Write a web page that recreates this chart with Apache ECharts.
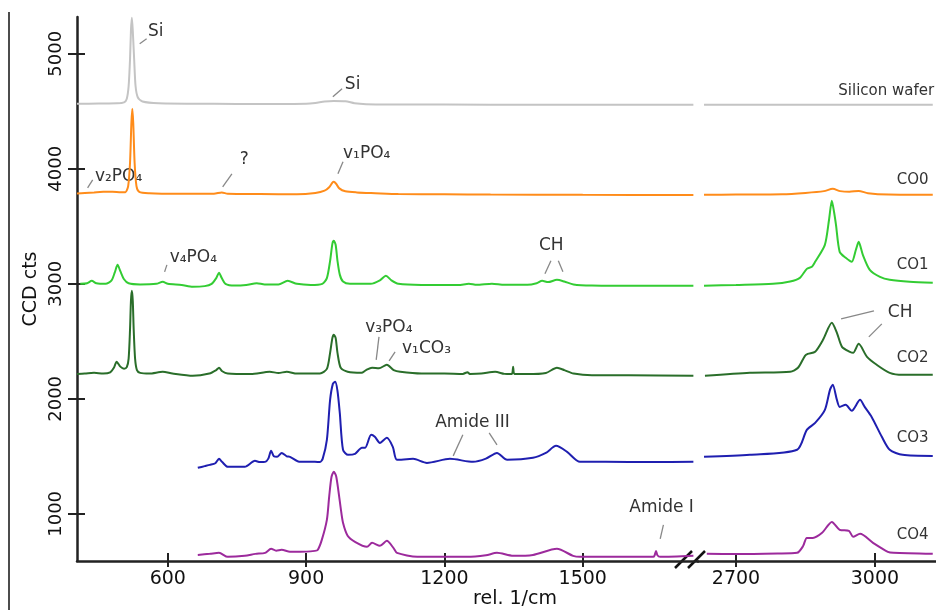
<!DOCTYPE html>
<html>
<head>
<meta charset="utf-8">
<script src="https://cdn.jsdelivr.net/npm/echarts@6/dist/echarts.min.js"></script>
<style>
    html, body {margin: 0; padding: 0; background: #fff;}
    #main {width: 936px; height: 610px;}
</style>
</head>
<body>
<div id="main"></div>
<script>
// tick values
const wnTicksLow = [600, 900, 1200, 1500];
const wnTicksHigh = [2700, 3000];
const ctsTicks = [1000, 2000, 3000, 4000, 5000];

// spectra, [rel. 1/cm, CCD cts], low range (left) and CH range (right)
const siLeft = [[403, 4565], [450, 4568], [490, 4570], [505, 4578], [511, 4610], [515, 4720], [518, 4950], [520, 5200], [522, 5313], [524, 5200], [527, 4950], [530, 4720], [535, 4620], [545, 4585], [580, 4570], [700, 4565], [800, 4563], [900, 4565], [920, 4572], [940, 4585], [960, 4590], [985, 4588], [1005, 4570], [1030, 4562], [1100, 4560], [1300, 4558], [1500, 4557], [1740, 4556]];
const siRight = [[2631, 4557], [2750, 4557], [2900, 4557], [3000, 4557], [3125, 4557]];

const co0Left = [[403, 3785], [420, 3790], [440, 3795], [460, 3800], [480, 3800], [498, 3797], [508, 3797], [514, 3850], [518, 4050], [521, 4400], [523, 4522], [525, 4400], [528, 4050], [532, 3850], [538, 3800], [560, 3788], [620, 3783], [700, 3783], [717, 3795], [730, 3783], [800, 3780], [880, 3778], [920, 3790], [940, 3810], [950, 3840], [957, 3880], [960, 3887], [965, 3870], [972, 3830], [985, 3805], [1010, 3795], [1050, 3788], [1100, 3780], [1200, 3778], [1300, 3776], [1500, 3774], [1740, 3772]];
const co0Right = [[2631, 3774], [2700, 3776], [2800, 3778], [2850, 3790], [2890, 3806], [2909, 3826], [2925, 3806], [2945, 3800], [2965, 3808], [2985, 3788], [3030, 3776], [3125, 3774]];

const co1Left = [[410, 3000], [425, 3005], [435, 3026], [445, 3005], [465, 3000], [478, 3030], [485, 3100], [491, 3165], [497, 3110], [505, 3040], [515, 3005], [540, 2995], [575, 3000], [589, 3017], [600, 3000], [630, 2990], [654, 2974], [680, 2980], [695, 3000], [705, 3050], [711, 3096], [717, 3050], [725, 3000], [745, 2985], [770, 2990], [793, 3005], [810, 2995], [840, 2995], [860, 3026], [880, 3000], [910, 2990], [935, 3000], [945, 3050], [952, 3200], [957, 3350], [960, 3374], [964, 3340], [968, 3200], [973, 3080], [980, 3020], [995, 3000], [1040, 3000], [1060, 3030], [1073, 3070], [1085, 3030], [1100, 3000], [1150, 2990], [1230, 2990], [1253, 3000], [1270, 2991], [1303, 3000], [1330, 2991], [1380, 2991], [1400, 3005], [1412, 3026], [1425, 3015], [1444, 3035], [1460, 3020], [1480, 2995], [1520, 2985], [1600, 2983], [1740, 2983]];
const co1Right = [[2631, 2983], [2700, 2990], [2780, 3000], [2817, 3020], [2838, 3052], [2853, 3130], [2864, 3148], [2871, 3191], [2892, 3339], [2901, 3557], [2907, 3722], [2912, 3620], [2916, 3513], [2924, 3278], [2937, 3226], [2950, 3191], [2959, 3296], [2965, 3365], [2974, 3252], [2989, 3122], [3011, 3061], [3032, 3035], [3075, 3017], [3125, 3009]];

const co2Left = [[403, 2217], [420, 2220], [440, 2226], [460, 2220], [475, 2230], [483, 2270], [489, 2322], [497, 2280], [505, 2262], [511, 2275], [515, 2350], [518, 2600], [520, 2850], [522, 2939], [524, 2850], [526, 2600], [529, 2350], [533, 2250], [540, 2226], [560, 2220], [589, 2235], [610, 2220], [654, 2200], [690, 2220], [705, 2250], [711, 2270], [718, 2240], [730, 2220], [780, 2215], [821, 2235], [840, 2225], [858, 2235], [880, 2220], [930, 2220], [945, 2260], [952, 2400], [957, 2530], [960, 2557], [964, 2530], [968, 2400], [975, 2270], [990, 2235], [1020, 2226], [1030, 2250], [1043, 2270], [1058, 2265], [1075, 2296], [1090, 2250], [1104, 2235], [1150, 2220], [1200, 2220], [1240, 2217], [1250, 2232], [1255, 2217], [1280, 2220], [1310, 2235], [1330, 2217], [1346, 2215], [1349, 2278], [1352, 2215], [1380, 2215], [1420, 2225], [1444, 2270], [1460, 2250], [1480, 2220], [1520, 2205], [1600, 2205], [1740, 2200]];
const co2Right = [[2633, 2200], [2730, 2226], [2817, 2235], [2834, 2270], [2849, 2374], [2855, 2391], [2871, 2409], [2888, 2513], [2907, 2661], [2918, 2574], [2929, 2452], [2946, 2409], [2953, 2400], [2965, 2478], [2983, 2365], [3004, 2296], [3032, 2226], [3060, 2209], [3125, 2209]];

const co3Left = [[665, 1400], [680, 1415], [691, 1426], [703, 1440], [711, 1478], [718, 1450], [730, 1409], [767, 1409], [789, 1461], [800, 1450], [811, 1452], [818, 1480], [824, 1548], [830, 1500], [837, 1496], [847, 1530], [858, 1500], [865, 1496], [887, 1452], [919, 1452], [930, 1450], [936, 1480], [945, 1643], [952, 1991], [958, 2130], [963, 2148], [968, 2070], [973, 1878], [980, 1557], [991, 1513], [1006, 1522], [1021, 1574], [1028, 1574], [1041, 1687], [1049, 1670], [1060, 1617], [1075, 1661], [1088, 1583], [1097, 1470], [1132, 1478], [1162, 1443], [1212, 1478], [1262, 1452], [1290, 1480], [1314, 1530], [1336, 1470], [1392, 1487], [1420, 1530], [1442, 1591], [1466, 1539], [1494, 1452], [1550, 1452], [1650, 1450], [1740, 1452]];
const co3Right = [[2631, 1496], [2730, 1513], [2832, 1557], [2853, 1730], [2871, 1791], [2892, 1904], [2903, 2078], [2909, 2122], [2918, 1991], [2924, 1930], [2937, 1948], [2950, 1896], [2968, 1991], [2978, 1930], [2993, 1843], [3015, 1670], [3032, 1557], [3060, 1513], [3125, 1504]];

const co4Left = [[665, 643], [691, 652], [711, 661], [730, 626], [767, 635], [790, 652], [811, 661], [824, 696], [835, 680], [847, 687], [865, 670], [887, 670], [919, 678], [925, 685], [934, 774], [945, 948], [950, 1150], [955, 1320], [960, 1365], [965, 1330], [970, 1200], [975, 1050], [980, 922], [990, 810], [1006, 757], [1032, 713], [1043, 748], [1060, 722], [1075, 765], [1090, 700], [1097, 661], [1141, 626], [1249, 626], [1290, 640], [1314, 661], [1349, 635], [1392, 643], [1444, 696], [1479, 635], [1494, 626], [1653, 626], [1656, 640], [1659, 678], [1662, 640], [1668, 626], [1740, 635]];
const co4Right = [[2637, 652], [2700, 650], [2790, 655], [2832, 661], [2845, 720], [2853, 791], [2866, 791], [2886, 835], [2907, 930], [2924, 861], [2944, 852], [2953, 800], [2968, 826], [2996, 748], [3028, 670], [3040, 661], [3125, 652]];

// series names shown at the right end
const seriesNames = ["Silicon wafer", "CO0", "CO1", "CO2", "CO3", "CO4"];
const seriesColors = ["#c4c4c4", "#ff8c1a", "#33cc33", "#2a6e2a", "#1f1fb0", "#9c2a9c"];
const seriesLeft = [siLeft, co0Left, co1Left, co2Left, co3Left, co4Left];
const seriesRight = [siRight, co0Right, co1Right, co2Right, co3Right, co4Right];
const nameAnchor = [[3128, 4678], [3116, 3904], [3116, 3165], [3116, 2357], [3116, 1661], [3116, 817]];

// peak annotations: text, [x, y] of text left/middle, leader lines, panel (0 low, 1 high)
const notes = [
    {text: "Si", at: [557, 5191], lines: [[[539, 5087], [554, 5131]]], panel: 0},
    {text: "Si", at: [984, 4731], lines: [[[958, 4626], [978, 4696]]], panel: 0},
    {text: "v\u2082PO\u2084", at: [442, 3930], lines: [[[426, 3835], [437, 3904]]], panel: 0},
    {text: "?", at: [756, 4078], lines: [[[719, 3844], [739, 3957]]], panel: 0},
    {text: "v\u2081PO\u2084", at: [980, 4131], lines: [[[969, 3957], [980, 4061]]], panel: 0},
    {text: "v\u2084PO\u2084", at: [604, 3226], lines: [[[593, 3104], [598, 3165]]], panel: 0},
    {text: "CH", at: [1405, 3331], lines: [[[1418, 3087], [1431, 3200]], [[1447, 3200], [1457, 3104]]], panel: 0},
    {text: "v\u2083PO\u2084", at: [1028, 2617], lines: [[[1058, 2539], [1052, 2339]]], panel: 0},
    {text: "v\u2081CO\u2083", at: [1108, 2435], lines: [[[1093, 2409], [1080, 2330]]], panel: 0},
    {text: "Amide III", at: [1180, 1791], lines: [[[1240, 1687], [1219, 1504]], [[1297, 1704], [1314, 1600]]], panel: 0},
    {text: "Amide I", at: [1601, 1052], lines: [[[1668, 783], [1675, 904]]], panel: 0},
    {text: "CH", at: [3028, 2748], lines: [[[2927, 2696], [2998, 2765]], [[2987, 2539], [3015, 2652]]], panel: 1}
];

const axisFont = "DejaVu Sans";
const axisColor = "#222";

function plain(v) {
    return String(v);
}

function xAxisOf(gridIdx, min, max, ticks, inside) {
    return {
        type: 'value', gridIndex: gridIdx, min: min, max: max, position: 'bottom',
        axisLine: {show: !inside, lineStyle: {color: axisColor, width: 2.5}},
        axisTick: {show: true, inside: inside, length: inside ? 8 : 6, customValues: ticks,
            lineStyle: {color: axisColor, width: 2}},
        axisLabel: {show: !inside, customValues: ticks, formatter: plain, margin: 9, color: '#111',
            fontFamily: axisFont, fontSize: 19},
        splitLine: {show: false}
    };
}

function yAxisOf(gridIdx, hidden, inside) {
    return {
        type: 'value', gridIndex: gridIdx, min: 590, max: 5320, position: 'left',
        axisLine: {show: !hidden && !inside, lineStyle: {color: axisColor, width: 2.5}},
        axisTick: {show: !hidden, inside: inside, length: inside ? 8 : 9, customValues: ctsTicks,
            lineStyle: {color: axisColor, width: 2}},
        axisLabel: {show: !hidden && !inside, customValues: ctsTicks, formatter: plain, rotate: 90, margin: 12,
            color: '#111', fontFamily: axisFont, fontSize: 18},
        splitLine: {show: false}
    };
}

let series = [];
for (let i = 0; i < seriesNames.length; i++) {
    [seriesLeft[i], seriesRight[i]].forEach(function (d, p) {
        series.push({
            name: seriesNames[i],
            type: 'line',
            xAxisIndex: p === 0 ? 0 : 2,
            yAxisIndex: p === 0 ? 0 : 2,
            data: d,
            showSymbol: false,
            symbol: 'none',
            smooth: 0.25,
            silent: true,
            lineStyle: {color: seriesColors[i], width: 2}
        });
    });
}

var chart = echarts.init(document.getElementById('main'));
chart.setOption({
    animation: false,
    backgroundColor: '#fff',
    grid: [
        {left: 77, top: 17, width: 621, height: 544},
        {left: 698, top: 17, width: 238, height: 544}
    ],
    xAxis: [
        xAxisOf(0, 403, 1750, wnTicksLow, false),
        xAxisOf(0, 403, 1750, wnTicksLow, true),
        xAxisOf(1, 2618, 3132, wnTicksHigh, false),
        xAxisOf(1, 2618, 3132, wnTicksHigh, true)
    ],
    yAxis: [
        yAxisOf(0, false, false),
        yAxisOf(0, false, true),
        yAxisOf(1, true, false)
    ],
    series: series
});

// annotations placed through the axes
function px(panel, pt) {
    return chart.convertToPixel({seriesIndex: panel === 0 ? 0 : 1}, pt);
}

let graphics = [];
notes.forEach(function (n) {
    let p = px(n.panel, n.at);
    graphics.push({type: 'text', x: p[0], y: p[1], silent: true,
        style: {text: n.text, fill: '#333', font: '17px "DejaVu Sans"', align: 'left', verticalAlign: 'middle'}});
    n.lines.forEach(function (l) {
        let a = px(n.panel, l[0]), b = px(n.panel, l[1]);
        graphics.push({type: 'line', silent: true, shape: {x1: a[0], y1: a[1], x2: b[0], y2: b[1]},
            style: {stroke: '#888', lineWidth: 1.3}});
    });
});
for (let i = 0; i < seriesNames.length; i++) {
    let p = px(1, nameAnchor[i]);
    graphics.push({type: 'text', x: p[0], y: p[1], silent: true,
        style: {text: seriesNames[i], fill: '#333', font: '15px "DejaVu Sans"', align: 'right', verticalAlign: 'middle'}});
}
// axis titles
graphics.push({type: 'text', x: 515, y: 599, silent: true,
    style: {text: 'rel. 1/cm', fill: '#111', font: '19px "DejaVu Sans"', align: 'center', verticalAlign: 'middle'}});
graphics.push({type: 'text', x: 31, y: 289, rotation: Math.PI / 2, silent: true,
    style: {text: 'CCD cts', fill: '#111', font: '19px "DejaVu Sans"', align: 'center', verticalAlign: 'middle'}});
// axis break marks
graphics.push({type: 'line', silent: true, shape: {x1: 675, y1: 568, x2: 692, y2: 551}, style: {stroke: '#111', lineWidth: 2.5}});
graphics.push({type: 'line', silent: true, shape: {x1: 688, y1: 568, x2: 705, y2: 551}, style: {stroke: '#111', lineWidth: 2.5}});
// figure frame line on the left
graphics.push({type: 'line', silent: true, shape: {x1: 9, y1: 12, x2: 9, y2: 610}, style: {stroke: '#111', lineWidth: 1.5}});

chart.setOption({graphic: graphics});
</script>
</body>
</html>
